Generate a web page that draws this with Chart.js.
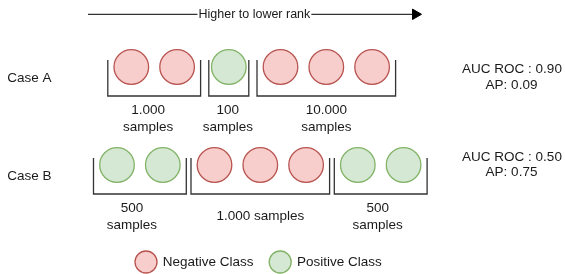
<!DOCTYPE html>
<html>
<head>
<meta charset="utf-8">
<script src="https://cdn.jsdelivr.net/npm/chart.js@4.4.1/dist/chart.umd.min.js"></script>
<style>
  html, body { margin: 0; padding: 0; background: #fff; }
  #wrap { width: 565px; height: 274px; position: relative; }
</style>
</head>
<body>
<div id="wrap"><canvas id="chart"></canvas></div>
<script>
// ---- data ----
const caseNames = ['Case A', 'Case B'];
const caseAClasses = ['neg', 'pos', 'neg'];
const caseACircles = [2, 1, 3];
const caseASamples = ['1.000\nsamples', '100\nsamples', '10.000\nsamples'];
const caseBClasses = ['pos', 'neg', 'pos'];
const caseBCircles = [2, 3, 2];
const caseBSamples = ['500\nsamples', '1.000 samples', '500\nsamples'];
const aucRoc = ['0.90', '0.50'];
const avgPrecision = ['0.09', '0.75'];
const classLabels = { neg: 'Negative Class', pos: 'Positive Class' };
const rankLabel = 'Higher to lower rank';

// ---- layout ----
const W = 565, H = 274;
const FAMILY = '"Liberation Sans", Arial, Helvetica, sans-serif';
const FONT = '13.5px ' + FAMILY;
const STEP = 45.8, GAP = 51.7, R = 17.3;
const colors = {
    neg: { fill: '#f8cecc', stroke: '#b85450' },
    pos: { fill: '#d5e8d4', stroke: '#82b366' }
};
const rows = [
    { y: 67, x0: 131.3, labelY: 78.3, metricY: 77.5, classes: caseAClasses, circles: caseACircles, samples: caseASamples, shift: [-6, -1, 0] },
    { y: 165, x0: 117, labelY: 176.7, metricY: 164.7, classes: caseBClasses, circles: caseBCircles, samples: caseBSamples, shift: [-8, 0, -3] }
];

// circles, brackets and sample labels from the groups
const circlePts = { neg: [], pos: [] };
const brackets = [];
const sampleLabels = [];
rows.forEach(row => {
    let x = row.x0;
    row.circles.forEach((n, g) => {
        const first = x;
        for (let i = 0; i < n; i++) {
            circlePts[row.classes[g]].push({ x: x, y: row.y });
            if (i < n - 1) x += STEP;
        }
        const m = n === 1 ? 20 : 23.5;
        const l = first - m, r = x + m;
        const top = row.y - 7, bottom = row.y + 29;
        brackets.push([{ x: l, y: top }, { x: l, y: bottom }, { x: r, y: bottom }, { x: r, y: top }]);
        sampleLabels.push({ x: (l + r) / 2 + row.shift[g], y: bottom, text: row.samples[g] });
        x += GAP;
    });
});

const datasets = [];
brackets.forEach(b => datasets.push({
    data: b, showLine: true, fill: false,
    borderColor: '#333', borderWidth: 1.3, pointRadius: 0
}));
datasets.push({
    label: rankLabel,
    data: [{ x: 88, y: 14.3 }, { x: 415.5, y: 14.3 }],
    showLine: true, fill: false, borderColor: '#000', borderWidth: 1,
    pointRadius: [0, 6], pointStyle: 'triangle', pointRotation: 90,
    pointBackgroundColor: '#000', pointBorderColor: '#000', pointBorderWidth: 1
});
['neg', 'pos'].forEach(c => datasets.push({
    label: classLabels[c],
    data: circlePts[c], showLine: false,
    pointRadius: R, pointStyle: 'circle',
    pointBackgroundColor: colors[c].fill,
    pointBorderColor: colors[c].stroke,
    pointBorderWidth: 1.3
}));

// ---- texts & legend ----
const textPlugin = {
    id: 'diagramText',
    afterDatasetsDraw(chart) {
        const ctx = chart.ctx;
        const sx = v => chart.scales.x.getPixelForValue(v);
        const sy = v => chart.scales.y.getPixelForValue(v);
        ctx.save();
        ctx.textBaseline = 'middle';

        // arrow label on a white background
        ctx.font = '12.5px ' + FAMILY;
        ctx.textAlign = 'center';
        const tw = ctx.measureText(rankLabel).width;
        ctx.fillStyle = '#fff';
        ctx.fillRect(sx(254.4) - tw / 2 - 1, sy(14.3) - 8, tw + 2, 16);
        ctx.fillStyle = '#1a1a1a';
        ctx.fillText(rankLabel, sx(254.4), sy(14.3));

        ctx.font = FONT;
        // case names
        ctx.textAlign = 'left';
        rows.forEach((row, i) => ctx.fillText(caseNames[i], sx(7.3), sy(row.labelY)));

        // sample counts under each bracket
        ctx.textAlign = 'center';
        sampleLabels.forEach(s => {
            const lines = s.text.split('\n');
            if (lines.length === 1) {
                ctx.fillText(lines[0], sx(s.x), sy(s.y + 22.4));
            } else {
                lines.forEach((t, k) => ctx.fillText(t, sx(s.x), sy(s.y + 14.7 + k * 16.3)));
            }
        });

        // metrics
        rows.forEach((row, i) => {
            ctx.fillText('AUC ROC : ' + aucRoc[i], sx(512), sy(row.metricY - 7.8));
            ctx.fillText('AP: ' + avgPrecision[i], sx(511.5), sy(row.metricY + 7.8));
        });

        // legend
        let lx = 134.5;
        const ly = 262;
        ['neg', 'pos'].forEach(c => {
            ctx.beginPath();
            ctx.arc(sx(lx + 11.5), sy(ly), 11, 0, Math.PI * 2);
            ctx.fillStyle = colors[c].fill;
            ctx.fill();
            ctx.lineWidth = 1.3;
            ctx.strokeStyle = colors[c].stroke;
            ctx.stroke();
            ctx.fillStyle = '#1a1a1a';
            ctx.textAlign = 'left';
            ctx.fillText(classLabels[c], sx(lx + 28.2), sy(ly + 0.7));
            lx += 28.2 + ctx.measureText(classLabels[c]).width + 15.2;
        });
        ctx.restore();
    }
};

new Chart(document.getElementById('chart'), {
    type: 'scatter',
    data: { datasets: datasets },
    options: {
        responsive: true,
        maintainAspectRatio: false,
        animation: false,
        events: [],
        layout: { padding: 0, autoPadding: false },
        plugins: { legend: { display: false }, tooltip: { enabled: false } },
        elements: { line: { tension: 0 } },
        datasets: { scatter: { clip: false } },
        scales: {
            x: { type: 'linear', min: 0, max: W, display: false },
            y: { type: 'linear', min: 0, max: H, reverse: true, display: false }
        }
    },
    plugins: [textPlugin]
});
</script>
</body>
</html>
